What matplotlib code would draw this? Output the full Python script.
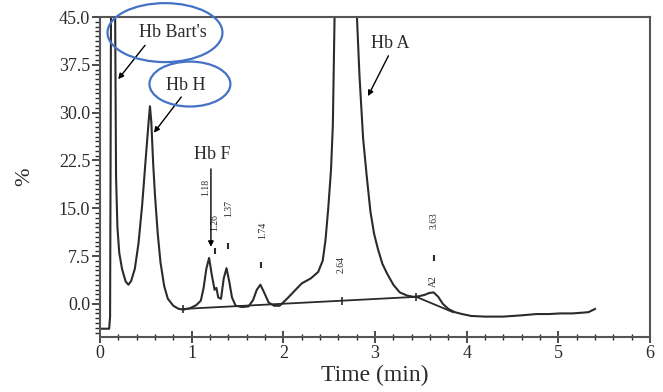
import matplotlib.pyplot as plt
from matplotlib.patches import Ellipse
from matplotlib.ticker import MultipleLocator

# chromatogram trace (time in min, signal in %)
time = [0.02, 0.10, 0.11, 0.115, 0.12, 0.165, 0.175, 0.19, 0.21, 0.24, 0.28, 0.31, 0.34, 0.38,
        0.42, 0.46, 0.50, 0.53, 0.545, 0.56, 0.58, 0.60, 0.63, 0.66, 0.70, 0.74, 0.80, 0.86,
        0.91, 0.98, 1.05, 1.10, 1.13, 1.16, 1.19, 1.22, 1.25, 1.27, 1.29, 1.32, 1.35, 1.38,
        1.41, 1.44, 1.48, 1.55, 1.62, 1.67, 1.71, 1.75, 1.79, 1.84, 1.90, 1.96, 2.04, 2.12,
        2.20, 2.30, 2.38, 2.43, 2.46, 2.49, 2.52, 2.54, 2.56, 2.80, 2.83, 2.87, 2.91, 2.95,
        2.99, 3.03, 3.08, 3.13, 3.20, 3.27, 3.35, 3.42, 3.48, 3.54, 3.59, 3.64, 3.69, 3.74,
        3.80, 3.87, 3.95, 4.05, 4.20, 4.40, 4.60, 4.76, 4.90, 5.02, 5.15, 5.25, 5.33, 5.40]
signal = [-3.9, -3.9, -2.0, 20.0, 46.0, 46.0, 20.0, 12.0, 8.0, 5.5, 3.5, 3.0, 3.6, 5.5,
          9.5, 15.5, 23.0, 28.5, 31.0, 28.5, 22.0, 17.0, 11.0, 6.5, 2.8, 0.8, -0.3, -0.8,
          -0.9, -0.7, -0.2, 0.5, 2.5, 5.5, 7.2, 4.5, 2.2, 2.5, 1.0, 0.8, 4.0, 5.6,
          3.5, 1.0, -0.3, -0.5, -0.4, 0.6, 2.2, 3.0, 1.8, 0.2, -0.3, -0.3, 0.8, 2.0,
          3.2, 4.0, 5.0, 6.8, 10.0, 15.0, 21.0, 28.0, 46.0, 46.0, 36.0, 26.0, 20.0, 14.5,
          11.0, 8.7, 6.3, 4.8, 3.0, 1.8, 1.3, 1.1, 1.2, 1.4, 1.7, 1.8, 1.1, 0.0,
          -0.8, -1.3, -1.6, -1.9, -2.0, -2.0, -1.8, -1.6, -1.6, -1.5, -1.5, -1.4, -1.3, -0.8]

# integration baseline
base_t = [0.90, 3.45, 3.85]
base_y = [-0.8, 1.1, -1.3]

# retention time labels
rt_labels = ['1.18', '1.26', '1.37', '1.74', '2.64', '3.63', 'A2']
rt_x = [1.155, 1.255, 1.40, 1.77, 2.63, 3.64, 3.64]
rt_y = [18.3, 12.7, 14.9, 11.6, 6.1, 13.0, 3.5]

# small peak marks
mark_x = [1.255, 1.40, 1.76, 3.64]
mark_y = [8.3, 9.0, 6.1, 7.2]
tick_x = [0.90, 2.64, 3.45]
tick_y = [-0.8, 0.4, 1.1]

# named peaks: label, text position, arrow tail, arrow tip
peaks = ['Hb Bart\'s', 'Hb H', 'Hb F', 'Hb A']
peak_text = [(0.80, 42.5), (0.93, 34.3), (1.22, 23.4), (3.17, 40.9)]
peak_tail = [(0.51, 40.9), (0.905, 32.8), (1.21, 21.6), (3.16, 39.3)]
peak_tip = [(0.18, 34.9), (0.57, 26.5), (1.21, 8.5), (2.91, 32.2)]

plt.rcParams['font.family'] = ['Liberation Serif', 'DejaVu Serif']
ink = '#2b2b2b'

fig = plt.figure(figsize=(6.63, 3.92), dpi=100)
ax = fig.add_axes([100 / 663, 55 / 392, 550 / 663, 320 / 392])

ax.plot(time, signal, color=ink, lw=1.5)
ax.plot(base_t, base_y, color=ink, lw=1.3)
ax.plot(mark_x, mark_y, ls='none', marker='|', ms=4, mew=1.5, color=ink)
ax.plot(tick_x, tick_y, ls='none', marker='|', ms=6, mew=1.2, color=ink)

for lab, x, y in zip(rt_labels, rt_x, rt_y):
    ax.text(x, y, lab, rotation=90, ha='center', va='center', fontsize=7, color=ink)

for lab, txt, tail, tip in zip(peaks, peak_text, peak_tail, peak_tip):
    ax.text(txt[0], txt[1], lab, ha='center', va='center', fontsize=13, color=ink)
    ax.annotate('', xy=tip, xytext=tail,
                arrowprops=dict(arrowstyle='-|>', color='black', lw=1.0, mutation_scale=8))

# blue circles round Hb Bart's and Hb H
ax.add_patch(Ellipse((0.709, 42.55), 1.254, 9.25, fill=False, edgecolor='#4472C4',
                     lw=1.6, clip_on=False, zorder=5))
ax.add_patch(Ellipse((0.981, 34.48), 0.883, 7.05, fill=False, edgecolor='#4472C4',
                     lw=1.6, clip_on=False, zorder=5))

ax.set_xlim(0, 6)
ax.set_ylim(-5.2, 45)
ax.set_xticks(range(7))
ax.set_yticks([0, 7.5, 15, 22.5, 30, 37.5, 45])
ax.set_yticklabels(['0.0', '7.5', '15.0', '22.5', '30.0', '37.5', '45.0'])
ax.xaxis.set_minor_locator(MultipleLocator(0.2))
ax.yaxis.set_minor_locator(MultipleLocator(0.75))
ax.tick_params(axis='x', which='major', direction='inout', length=8, width=1.2,
               labelsize=13, colors=ink, pad=2)
ax.tick_params(axis='x', which='minor', direction='inout', length=4, width=1.0, colors=ink)
ax.tick_params(axis='y', which='major', direction='out', length=6, width=1.2,
               labelsize=13, colors=ink, pad=1)
ax.tick_params(axis='y', which='minor', direction='out', length=3.5, width=1.0, colors=ink)

for s in ax.spines.values():
    s.set_color('#555555')
    s.set_linewidth(1.5)

ax.set_xlabel('Time (min)', fontsize=17, color=ink, labelpad=2)
ax.set_ylabel('%', fontsize=16, color=ink, labelpad=18)

fig.savefig('out.png', dpi=100)
